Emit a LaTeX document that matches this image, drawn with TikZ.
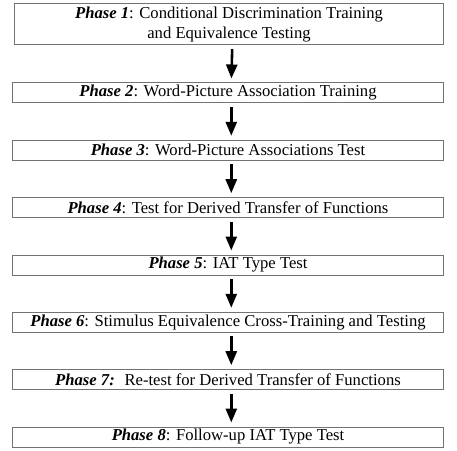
\documentclass[tikz,border=0pt]{standalone}
\usepackage{fontspec}
\setmainfont{Liberation Serif}
\usetikzlibrary{arrows.meta}
\tikzset{
	phasebox/.style={draw=black!55,line width=0.7pt,rectangle,inner sep=0pt,
		minimum width=301pt,minimum height=14pt,align=center,
		font=\fontsize{11.65}{14}\selectfont},
	phasearrow/.style={line width=1.8pt,-{Triangle[width=7.7pt,length=9.8pt]},
		shorten <=2.5pt,shorten >=2.8pt}
}
\newcommand{\phase}[1]{\textbf{\textit{Phase #1}}}
\begin{document}
\begin{tikzpicture}[x=0.7pt,y=-0.7pt]
				\useasboundingbox (0,0) rectangle (457,450);
				% erste Phase, zweizeilig
				\node[phasebox,minimum width=299.6pt,minimum height=28.7pt] (p1) at (229,24.5) {\phase{1}: Conditional Discrimination Training\\and Equivalence Testing};
				% restliche Phasen
				\node[phasebox] (p2) at (228,93) {\phase{2}: Word-Picture Association Training};
				\node[phasebox] (p3) at (228,150.3) {\phase{3}: Word-Picture Associations Test};
				\node[phasebox] (p4) at (228,207.7) {\phase{4}: Test for Derived Transfer of Functions};
				\node[phasebox] (p5) at (228,265) {\phase{5}: IAT Type Test};
				\node[phasebox] (p6) at (228,322.3) {\phase{6}: Stimulus Equivalence Cross-Training and Testing};
				\node[phasebox] (p7) at (228,379.7) {\textbf{\textit{Phase 7:}}~ Re-test for Derived Transfer of Functions};
				\node[phasebox] (p8) at (228,437) {\phase{8}: Follow-up IAT Type Test};
				% Pfeile
				\draw[phasearrow] ([xshift=2.3pt]p1.south) to ([xshift=2.3pt]p2.north);
				\draw[phasearrow] ([xshift=2.3pt]p2.south) to ([xshift=2.3pt]p3.north);
				\draw[phasearrow] ([xshift=2.3pt]p3.south) to ([xshift=2.3pt]p4.north);
				\draw[phasearrow] ([xshift=2.3pt]p4.south) to ([xshift=2.3pt]p5.north);
				\draw[phasearrow] ([xshift=2.3pt]p5.south) to ([xshift=2.3pt]p6.north);
				\draw[phasearrow] ([xshift=2.3pt]p6.south) to ([xshift=2.3pt]p7.north);
				\draw[phasearrow] ([xshift=2.3pt]p7.south) to ([xshift=2.3pt]p8.north);
\end{tikzpicture}
\end{document}
